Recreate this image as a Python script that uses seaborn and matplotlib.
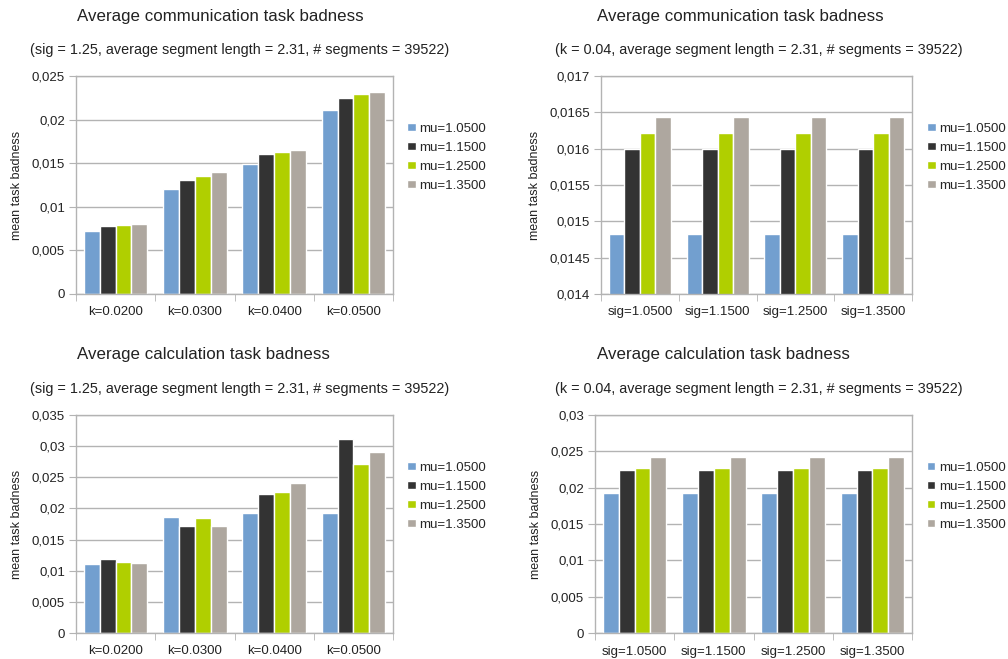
import seaborn as sns
import matplotlib.pyplot as plt
import pandas as pd
from matplotlib.ticker import FuncFormatter

# series labels and colors
mu_labels = ["mu=1.0500", "mu=1.1500", "mu=1.2500", "mu=1.3500"]
bar_colors = ["#729fcf", "#333333", "#b0cf00", "#aea79f"]

k_labels = ["k=0.0200", "k=0.0300", "k=0.0400", "k=0.0500"]
sig_labels = ["sig=1.0500", "sig=1.1500", "sig=1.2500", "sig=1.3500"]

# communication badness vs k (one list per mu)
comm_k_mu105 = [0.00719, 0.01200, 0.01491, 0.02114]
comm_k_mu115 = [0.00776, 0.01307, 0.01606, 0.02252]
comm_k_mu125 = [0.00787, 0.01357, 0.01625, 0.02294]
comm_k_mu135 = [0.00807, 0.01395, 0.01648, 0.02317]

# communication badness vs sig
comm_sig_mu105 = [0.01483, 0.01483, 0.01483, 0.01483]
comm_sig_mu115 = [0.01600, 0.01600, 0.01600, 0.01600]
comm_sig_mu125 = [0.01622, 0.01622, 0.01622, 0.01622]
comm_sig_mu135 = [0.01644, 0.01644, 0.01644, 0.01644]

# calculation badness vs k
calc_k_mu105 = [0.01102, 0.01862, 0.01927, 0.01927]
calc_k_mu115 = [0.01183, 0.01718, 0.02237, 0.03115]
calc_k_mu125 = [0.01135, 0.01852, 0.02269, 0.02708]
calc_k_mu135 = [0.01124, 0.01723, 0.02414, 0.02906]

# calculation badness vs sig
calc_sig_mu105 = [0.01927, 0.01927, 0.01927, 0.01927]
calc_sig_mu115 = [0.02239, 0.02239, 0.02239, 0.02239]
calc_sig_mu125 = [0.02271, 0.02271, 0.02271, 0.02271]
calc_sig_mu135 = [0.02417, 0.02417, 0.02417, 0.02417]

title_comm = "Average communication task badness"
title_calc = "Average calculation task badness"
sub_sig = "(sig = 1.25, average segment length = 2.31, # segments = 39522)"
sub_k = "(k = 0.04, average segment length = 2.31, # segments = 39522)"

sns.set_style("white")
plt.rcParams["font.family"] = ["Liberation Sans", "DejaVu Sans"]

W, H = 1008, 659


def make_frame(cats, series):
    rows = []
    for label, vals in zip(mu_labels, series):
        for c, v in zip(cats, vals):
            rows.append({"cat": c, "mu": label, "value": v})
    return pd.DataFrame(rows)


def draw_panel(box, cats, series, ylim, ystep, title, subtitle, title_x, sub_x, title_y, sub_y, leg_x):
    left, top, right, bottom = box
    ax = fig.add_axes([left / W, 1 - bottom / H, (right - left) / W, (bottom - top) / H])
    df = make_frame(cats, series)
    sns.barplot(data=df, x="cat", y="value", hue="mu", order=cats, hue_order=mu_labels,
                palette=bar_colors, width=0.8, gap=0, saturation=1, ax=ax, errorbar=None)
    ax.set_ylim(*ylim)
    ax.set_xlim(-0.5, len(cats) - 0.5)
    ticks = []
    v = ylim[0]
    while v <= ylim[1] + 1e-9:
        ticks.append(round(v, 6))
        v += ystep
    ax.set_yticks(ticks)
    ax.yaxis.set_major_formatter(FuncFormatter(lambda x, p: f"{x:g}".replace(".", ",")))
    ax.yaxis.grid(True, color="#b3b3b3", lw=1)
    ax.set_axisbelow(True)
    for s in ax.spines.values():
        s.set_color("#b3b3b3")
        s.set_linewidth(1)
    ax.tick_params(axis="y", left=True, length=5, color="#b3b3b3", labelsize=9.5, pad=3, labelcolor="#222222")
    ax.tick_params(axis="x", which="major", length=0, labelsize=9.5, pad=9, labelcolor="#222222")
    ax.set_xticks([i + 0.5 for i in range(-1, len(cats))], minor=True)
    ax.tick_params(axis="x", which="minor", bottom=True, length=5, color="#b3b3b3")
    ax.set_xlabel("")
    ax.set_ylabel("mean task badness", fontsize=9, color="#222222", labelpad=6)
    handles, labels = ax.get_legend_handles_labels()
    ax.legend(handles, labels, loc="center left", bbox_to_anchor=(leg_x, 0.628), frameon=False,
              fontsize=9.5, handlelength=0.65, handleheight=0.65, handletextpad=0.3,
              labelspacing=0.53, borderaxespad=0, borderpad=0)
    fig.text(title_x / W, 1 - title_y / H, title, fontsize=12.2, va="center", ha="left", color="#222222")
    fig.text(sub_x / W, 1 - sub_y / H, subtitle, fontsize=10.4, va="center", ha="left", color="#222222")
    return ax


fig = plt.figure(figsize=(W / 100, H / 100), dpi=100)

draw_panel((76, 76, 393, 294), k_labels,
           [comm_k_mu105, comm_k_mu115, comm_k_mu125, comm_k_mu135],
           (0, 0.025), 0.005, title_comm, sub_sig, 77, 30, 16, 50, 1.044)
draw_panel((601, 76, 912, 294), sig_labels,
           [comm_sig_mu105, comm_sig_mu115, comm_sig_mu125, comm_sig_mu135],
           (0.014, 0.017), 0.0005, title_comm, sub_k, 597, 555, 16, 50, 1.048)
draw_panel((76, 415, 393, 633), k_labels,
           [calc_k_mu105, calc_k_mu115, calc_k_mu125, calc_k_mu135],
           (0, 0.035), 0.005, title_calc, sub_sig, 77, 30, 355, 389, 1.044)
draw_panel((595, 415, 912, 633), sig_labels,
           [calc_sig_mu105, calc_sig_mu115, calc_sig_mu125, calc_sig_mu135],
           (0, 0.03), 0.005, title_calc, sub_k, 597, 555, 355, 389, 1.047)

fig.savefig("out.png", dpi=100)
plt.close(fig)
